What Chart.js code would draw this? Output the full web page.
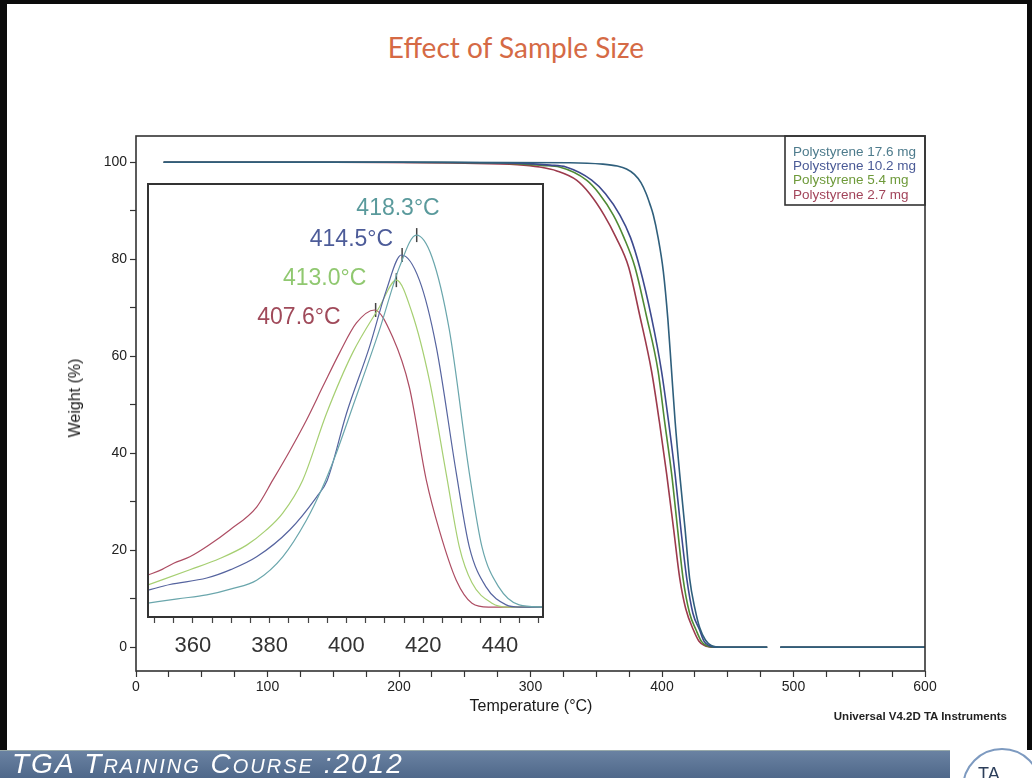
<!DOCTYPE html>
<html>
<head>
<meta charset="utf-8">
<script src="https://cdn.jsdelivr.net/npm/chart.js@4.4.1/dist/chart.umd.min.js"></script>
<style>
  html, body { margin: 0; padding: 0; background: #fff; }
  #slide { position: relative; width: 1032px; height: 778px; overflow: hidden; background: #fff;
           font-family: "Liberation Sans", Arial, sans-serif; }
  .edge { position: absolute; background: #0b0b0b; }
  canvas { position: absolute; left: 0; top: 0; }
  #title { position: absolute; left: 0; width: 1032px; top: 30px; text-align: center;
           font: 28px Lato, "Open Sans", sans-serif; color: #d56a45; }
  #ylab { position: absolute; left: 75px; top: 398px; transform: translate(-50%, -50%) rotate(-90deg);
          font-size: 16px; color: #1a1a1a; white-space: nowrap; }
  #xlab { position: absolute; left: 531px; top: 706px; transform: translate(-50%, -50%);
          font-size: 16px; color: #1a1a1a; white-space: nowrap; }
  #credit { position: absolute; right: 25px; top: 710px; font-size: 11.5px; font-weight: bold; color: #222; }
  #banner { position: absolute; left: 0; top: 750px; width: 950px; height: 28px;
            background: linear-gradient(#6a82a2, #4e6789); border-top: 1px solid #9aa; }
  #banner span { position: absolute; left: 12px; top: -3px; line-height: 32px;
                 font: italic 28px "Liberation Sans", Arial, sans-serif; letter-spacing: 2px;
                 font-variant: small-caps; color: #fff; white-space: nowrap; }
  #logo { position: absolute; left: 962px; top: 748px; width: 80px; height: 80px; border-radius: 50%;
          border: 2px solid #7d9ac0; box-sizing: border-box; }
  #logo span { position: absolute; left: 14px; top: 14px; font-size: 18px; color: #2c3e5a; }
</style>
</head>
<body>
<div id="slide">
  <div class="edge" style="left:0;top:0;width:1032px;height:4px"></div>
  <div class="edge" style="left:0;top:0;width:7px;height:750px"></div>
  <div class="edge" style="left:1027px;top:0;width:5px;height:750px"></div>

  <div id="title">Effect of Sample Size</div>

  <canvas id="main" width="1032" height="750"></canvas>
  <canvas id="inset" width="1032" height="750"></canvas>

  <div id="ylab">Weight (%)</div>
  <div id="xlab">Temperature (°C)</div>
  <div id="credit">Universal V4.2D TA Instruments</div>

  <div id="banner"><span>TGA Training Course :2012</span></div>
  <div id="logo"><span>TA</span></div>
</div>

<script>
// ---- main TGA curves: temperature (°C) vs weight (%) ----
const temp176 = [21, 200, 330, 355, 366, 373, 379, 384, 388, 391, 393.4, 397, 401, 404.5, 407, 410, 413.5, 417.5, 421, 425, 428.7, 433, 437.8, 445, 480, 485, 490, 600];
const wt176   = [100, 100, 99.9, 99.6, 99.2, 98.6, 97.5, 95.8, 93.5, 91.2, 89.1, 84.5, 77.5, 67.5, 58, 46.5, 35.6, 24.5, 14.2, 8, 4, 1.5, 0.3, 0, 0, null, 0, 0];

const temp102 = [21, 200, 290, 315, 327, 346.5, 357, 368, 376, 383, 392, 399.6, 405, 410, 414.5, 418.8, 423.5, 428.7, 432, 436, 444, 480, 485, 490, 600];
const wt102   = [100, 100, 99.8, 99.4, 99, 96.3, 93.5, 89.1, 84.5, 78.4, 68, 57, 46.5, 35.6, 24, 14.2, 7, 3.5, 1.2, 0.3, 0, 0, null, 0, 0];

const temp54  = [21, 200, 280, 310, 322, 342.6, 352, 363, 371, 379.4, 388, 397, 402, 407.4, 412, 416, 421, 426, 430, 434, 442, 480, 485, 490, 600];
const wt54    = [100, 100, 99.8, 99.3, 99, 96.3, 93.6, 89.1, 84.5, 78.4, 68.5, 57, 46.5, 35.6, 24, 14.2, 7, 3.5, 1.2, 0.3, 0, 0, null, 0, 0];

const temp27  = [21, 150, 250, 290, 307, 320, 335, 345, 356, 365, 374.6, 383, 392, 398, 403.6, 409, 413.5, 418, 424, 428, 432, 440, 480, 485, 490, 600];
const wt27    = [100, 100, 99.8, 99.5, 99, 98.2, 96.3, 93.5, 89.1, 84.5, 78.4, 68.5, 57, 46.5, 35.6, 24, 14.2, 8, 3.5, 1.3, 0.4, 0, 0, null, 0, 0];

const seriesLabels = ['Polystyrene 17.6 mg', 'Polystyrene 10.2 mg', 'Polystyrene 5.4 mg', 'Polystyrene 2.7 mg'];

// ---- inset derivative curves (arbitrary units) ----
const dTemp176 = [348.3, 356, 363.6, 370, 376.6, 383.4, 389.6, 393.8, 397, 401.6, 408.6, 413.8, 418.2, 422.3, 426.8, 432, 435.3, 439.7, 445, 451.2];
const dVal176  = [3.2, 4.2, 5.1, 6.5, 8.5, 13.9, 22.4, 30, 37, 48.5, 66.3, 80.8, 88.2, 83.1, 66.3, 33.3, 16.2, 6.9, 2.8, 2.3];

const dTemp102 = [348.3, 354, 363.6, 370, 376.6, 385.2, 392.2, 395, 400, 406, 410.4, 414.3, 419, 423.4, 428.6, 432, 436.4, 441.6, 445, 451.2];
const dVal102  = [6.2, 7.5, 9, 11, 13.9, 20.1, 27.7, 31.6, 47, 62.4, 75.5, 83.6, 77.8, 62.4, 33.3, 16.2, 6.9, 2.8, 2.3, 2.3];

const dTemp54  = [348.3, 359.2, 367, 374, 379, 383.4, 388.6, 394.8, 401.6, 408.6, 413, 417.1, 421.6, 426, 429.4, 432.7, 437.9, 442, 451.2];
const dVal54   = [7.4, 10.9, 13.5, 16.6, 20, 24, 31.6, 47, 61, 71.6, 77.8, 70.2, 54.7, 33, 16.2, 7.9, 3.2, 2.3, 2.3];

const dTemp27  = [348.3, 352, 355, 359.2, 364, 369.6, 376.6, 380.8, 385, 389.6, 394, 398.2, 402.6, 407.3, 412, 416.4, 420.8, 424.2, 428.6, 432.7, 437, 451.2];
const dVal27   = [9.7, 11, 12.4, 13.9, 16.5, 20.1, 25.4, 31.6, 38, 45.5, 53.5, 61, 67.9, 70.9, 64.7, 53, 31.6, 20, 8.5, 3.2, 2.3, 2.3];

const peakTemps  = [418.3, 414.5, 413.0, 407.6];
const peakVals   = [88.2, 83.6, 77.8, 70.9];
const peakLabels = ['418.3°C', '414.5°C', '413.0°C', '407.6°C'];

// ---- tick values ----
const xTicksMain = [0, 25, 50, 75, 100, 125, 150, 175, 200, 225, 250, 275, 300, 325, 350, 375, 400, 425, 450, 475, 500, 525, 550, 575, 600];
const yTicksMain = [0, 10, 20, 30, 40, 50, 60, 70, 80, 90, 100];
const xTicksInset = [350, 355, 360, 365, 370, 375, 380, 385, 390, 395, 400, 405, 410, 415, 420, 425, 430, 435, 440, 445, 450];

const mainColors   = ['#2f5f7c', '#3d4a8e', '#4f8a34', '#9c3a4c'];
const legendColors = ['#4d7b8c', '#4a5a96', '#6e9a3a', '#a2445a'];
const insetColors  = ['#6aa6ac', '#56649f', '#a6cf72', '#ad4d63'];
const labelColors  = ['#5a9a9c', '#4d5c99', '#90c870', '#a04a5a'];

const pts = (xs, ys) => xs.map((x, i) => ({ x, y: ys[i] }));
const FONT = 'Liberation Sans';

// frame + legend box for the main plot
const mainDecor = {
  id: 'mainDecor',
  afterDraw(chart) {
    const { ctx, chartArea: a } = chart;
    ctx.save();
    ctx.strokeStyle = '#333';
    ctx.lineWidth = 1.6;
    ctx.strokeRect(a.left, a.top, a.right - a.left, a.bottom - a.top);
    // legend box in the upper right corner
    const bw = 140, bh = 69;
    ctx.strokeRect(a.right - bw, a.top, bw, bh);
    ctx.font = `13.5px "${FONT}"`;
    ctx.textBaseline = 'middle';
    seriesLabels.forEach((t, i) => {
      ctx.fillStyle = legendColors[i];
      ctx.fillText(t, a.right - bw + 8, a.top + 16 + i * 14.3);
    });
    ctx.restore();
  }
};

new Chart(document.getElementById('main'), {
  type: 'line',
  data: {
    datasets: [
      { label: seriesLabels[0], data: pts(temp176, wt176), borderColor: mainColors[0] },
      { label: seriesLabels[1], data: pts(temp102, wt102), borderColor: mainColors[1] },
      { label: seriesLabels[2], data: pts(temp54, wt54), borderColor: mainColors[2] },
      { label: seriesLabels[3], data: pts(temp27, wt27), borderColor: mainColors[3] }
    ]
  },
  options: {
    responsive: false,
    animation: false,
    layout: { padding: { left: 76, top: 136, right: 107, bottom: 39 } },
    plugins: { legend: { display: false }, tooltip: { enabled: false } },
    elements: {
      point: { radius: 0 },
      line: { borderWidth: 1.6, cubicInterpolationMode: 'monotone', fill: false }
    },
    scales: {
      x: {
        type: 'linear', min: 0, max: 600,
        afterBuildTicks: ax => { ax.ticks = xTicksMain.map(v => ({ value: v })); },
        afterFit: ax => { ax.height = 40; },
        ticks: { autoSkip: false, maxRotation: 0, padding: 2, color: '#222',
                 font: { family: FONT, size: 14 }, callback: v => (v % 100 === 0 ? v : '') },
        grid: { drawOnChartArea: false, tickLength: 6, tickColor: '#333', tickWidth: 1.2 },
        border: { display: false }
      },
      y: {
        type: 'linear', min: -4.9, max: 105.4,
        afterBuildTicks: ax => { ax.ticks = yTicksMain.map(v => ({ value: v })); },
        afterFit: ax => { ax.width = 60; },
        ticks: { autoSkip: false, padding: 3, color: '#222',
                 font: { family: FONT, size: 14 }, callback: v => (v % 20 === 0 ? v : '') },
        grid: { drawOnChartArea: false, tickLength: 6, tickColor: '#333', tickWidth: 1.2 },
        border: { display: false }
      }
    }
  },
  plugins: [mainDecor]
});

// frame + peak temperature labels for the inset
const insetDecor = {
  id: 'insetDecor',
  afterDraw(chart) {
    const { ctx, chartArea: a } = chart;
    ctx.save();
    ctx.strokeStyle = '#333';
    ctx.lineWidth = 2;
    ctx.strokeRect(a.left, a.top, a.right - a.left, a.bottom - a.top);
    const offs = [[23, -26], [-9, -15], [-30, -1], [-35, 8]];
    const meta = chart.getDatasetMeta(4);
    ctx.font = `23px "${FONT}"`;
    ctx.textAlign = 'right';
    ctx.textBaseline = 'middle';
    peakLabels.forEach((t, i) => {
      const p = meta.data[i];
      ctx.fillStyle = labelColors[i];
      ctx.fillText(t, p.x + offs[i][0], p.y + offs[i][1]);
    });
    ctx.restore();
  }
};

new Chart(document.getElementById('inset'), {
  type: 'line',
  data: {
    datasets: [
      { data: pts(dTemp176, dVal176), borderColor: insetColors[0] },
      { data: pts(dTemp102, dVal102), borderColor: insetColors[1] },
      { data: pts(dTemp54, dVal54), borderColor: insetColors[2] },
      { data: pts(dTemp27, dVal27), borderColor: insetColors[3] },
      { data: pts(peakTemps, peakVals), showLine: false, pointStyle: 'line', rotation: 90,
        pointRadius: 7, borderColor: '#444', borderWidth: 1.5 }
    ]
  },
  options: {
    responsive: false,
    animation: false,
    layout: { padding: { left: 148, top: 184, right: 489, bottom: 83 } },
    plugins: { legend: { display: false }, tooltip: { enabled: false } },
    elements: {
      point: { radius: 0 },
      line: { borderWidth: 1.2, cubicInterpolationMode: 'monotone', fill: false }
    },
    scales: {
      x: {
        type: 'linear', min: 348.3, max: 451.2,
        afterBuildTicks: ax => { ax.ticks = xTicksInset.map(v => ({ value: v })); },
        afterFit: ax => { ax.height = 50; },
        ticks: { autoSkip: false, maxRotation: 0, padding: 10, color: '#333',
                 font: { family: FONT, size: 22 }, callback: v => (v % 20 === 0 ? v : '') },
        grid: { drawOnChartArea: false, tickLength: 6, tickColor: '#444', tickWidth: 1.2 },
        border: { display: false }
      },
      y: { display: false, min: 0, max: 100 }
    }
  },
  plugins: [insetDecor]
});
</script>
</body>
</html>
